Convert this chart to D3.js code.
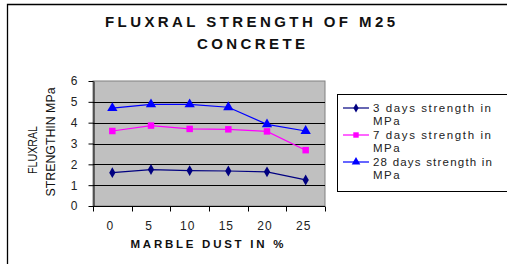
<!DOCTYPE html>
<html>
<head>
<meta charset="utf-8">
<script src="https://cdn.jsdelivr.net/npm/d3@7"></script>
<style>
  body { margin: 0; background: #fff; }
  svg text { font-family: "Liberation Sans", Arial, sans-serif; }
</style>
</head>
<body>
<div id="chart"></div>
<script>
// data
var categories = ["0", "5", "10", "15", "20", "25"];
var days3 = [1.6, 1.75, 1.7, 1.68, 1.64, 1.25];
var days7 = [3.6, 3.86, 3.7, 3.68, 3.58, 2.68];
var days28 = [4.7, 4.88, 4.88, 4.74, 3.92, 3.6];
var yTicks = [0, 1, 2, 3, 4, 5, 6];
var seriesNames = ["3 days strength in", "7 days strength in", "28 days strength in"];

var series = [
    { name: seriesNames[0], values: days3, color: "#000080", symbol: d3.symbolDiamond, size: 34 },
    { name: seriesNames[1], values: days7, color: "#ff00ff", symbol: d3.symbolSquare, size: 42 },
    { name: seriesNames[2], values: days28, color: "#0000ff", symbol: d3.symbolTriangle, size: 46 }
];

var W = 507, H = 264;
var plot = { left: 93, top: 81, right: 325, bottom: 206 };

var svg = d3.select("#chart").append("svg")
    .attr("width", W)
    .attr("height", H);

// frame (only top and left edges visible)
svg.append("path")
    .attr("d", "M7.5,264 V4.5 H507")
    .attr("fill", "none")
    .attr("stroke", "#000")
    .attr("stroke-width", 1.3);

// title
svg.append("text")
    .attr("x", 250).attr("y", 27)
    .attr("text-anchor", "middle")
    .attr("font-family", "DejaVu Sans, sans-serif")
    .attr("font-size", 15).attr("font-weight", "bold")
    .attr("fill", "#111")
    .attr("textLength", 290).attr("lengthAdjust", "spacing")
    .text("FLUXRAL STRENGTH OF M25");
svg.append("text")
    .attr("x", 251).attr("y", 49)
    .attr("text-anchor", "middle")
    .attr("font-family", "DejaVu Sans, sans-serif")
    .attr("font-size", 15).attr("font-weight", "bold")
    .attr("fill", "#111")
    .attr("textLength", 108).attr("lengthAdjust", "spacing")
    .text("CONCRETE");

var x = d3.scaleBand().domain(categories).range([plot.left, plot.right]);
var y = d3.scaleLinear().domain([0, 6]).range([plot.bottom, plot.top]);

// plot area background
svg.append("rect")
    .attr("x", plot.left).attr("y", plot.top)
    .attr("width", plot.right - plot.left).attr("height", plot.bottom - plot.top)
    .attr("fill", "#c0c0c0")
    .attr("stroke", "#808080");

// gridlines
svg.append("g").selectAll("line")
    .data(yTicks.filter(function (d) { return d > 0 && d < 6; }))
    .enter().append("line")
    .attr("x1", plot.left).attr("x2", plot.right)
    .attr("y1", function (d) { return Math.round(y(d)) + 0.5; })
    .attr("y2", function (d) { return Math.round(y(d)) + 0.5; })
    .attr("stroke", "#000").attr("stroke-width", 1);

// y axis
var yAxis = svg.append("g")
    .attr("transform", "translate(" + (plot.left + 0.5) + ",0)")
    .call(d3.axisLeft(y).tickValues(yTicks).tickFormat(d3.format("d"))
        .tickSize(5).tickSizeOuter(0).tickPadding(11));
yAxis.selectAll("text").attr("font-size", 12).attr("font-family", "Liberation Sans, Arial, sans-serif").attr("fill", "#222");

// x axis with ticks between categories
var xAxis = svg.append("g")
    .attr("transform", "translate(0," + (plot.bottom + 0.5) + ")");
xAxis.append("line")
    .attr("x1", plot.left).attr("x2", plot.right)
    .attr("stroke", "#000");
xAxis.selectAll("line.tick")
    .data(categories.concat([null]))
    .enter().append("line")
    .attr("class", "tick")
    .attr("x1", function (d, i) { return Math.round(plot.left + i * x.bandwidth()) + 0.5; })
    .attr("x2", function (d, i) { return Math.round(plot.left + i * x.bandwidth()) + 0.5; })
    .attr("y1", 0).attr("y2", 5)
    .attr("stroke", "#000");
xAxis.selectAll("text")
    .data(categories)
    .enter().append("text")
    .attr("x", function (d) { return x(d) + x.bandwidth() / 2 - 2; })
    .attr("y", 23)
    .attr("text-anchor", "middle")
    .attr("font-size", 12)
    .attr("letter-spacing", 1)
    .attr("fill", "#222")
    .text(function (d) { return d; });

// axis titles
svg.append("text")
    .attr("x", 207).attr("y", 248)
    .attr("text-anchor", "middle")
    .attr("font-family", "DejaVu Sans, sans-serif")
    .attr("font-size", 11.5).attr("font-weight", "bold")
    .attr("fill", "#111")
    .attr("textLength", 153).attr("lengthAdjust", "spacing")
    .text("MARBLE DUST IN %");
svg.append("text")
    .attr("transform", "translate(37,150) rotate(-90)")
    .attr("text-anchor", "middle")
    .attr("font-size", 13.5)
    .attr("fill", "#111")
    .attr("textLength", 48).attr("lengthAdjust", "spacingAndGlyphs")
    .text("FLUXRAL");
svg.append("text")
    .attr("transform", "translate(55,142) rotate(-90)")
    .attr("text-anchor", "middle")
    .attr("font-size", 13.5)
    .attr("fill", "#111")
    .attr("textLength", 109).attr("lengthAdjust", "spacingAndGlyphs")
    .text("STRENGTHIN MPa");

// lines and markers
var line = d3.line()
    .x(function (d, i) { return x(categories[i]) + x.bandwidth() / 2; })
    .y(function (d) { return y(d); });

series.forEach(function (s) {
    var g = svg.append("g");
    g.append("path")
        .attr("d", line(s.values))
        .attr("fill", "none")
        .attr("stroke", s.color)
        .attr("stroke-width", 1.2);
    g.selectAll("path.m")
        .data(s.values)
        .enter().append("path")
        .attr("class", "m")
        .attr("transform", function (d, i) {
            return "translate(" + (x(categories[i]) + x.bandwidth() / 2) + "," + y(d) + ")";
        })
        .attr("d", d3.symbol().type(s.symbol).size(s.size))
        .attr("fill", s.color);
});

// legend
var legend = svg.append("g");
legend.append("rect")
    .attr("x", 337.5).attr("y", 94.5)
    .attr("width", 180).attr("height", 97)
    .attr("fill", "#fff")
    .attr("stroke", "#000");
series.forEach(function (s, i) {
    var ly = 108 + i * 27;
    legend.append("line")
        .attr("x1", 343).attr("x2", 369)
        .attr("y1", ly).attr("y2", ly)
        .attr("stroke", s.color).attr("stroke-width", 1.2);
    legend.append("path")
        .attr("transform", "translate(356," + ly + ")")
        .attr("d", d3.symbol().type(s.symbol).size(s.size * 0.7))
        .attr("fill", s.color);
    legend.append("text")
        .attr("x", 373).attr("y", ly + 4)
        .attr("font-size", 11.5)
        .attr("fill", "#222")
        .attr("textLength", i === 2 ? 119 : 118).attr("lengthAdjust", "spacing")
        .text(s.name);
    legend.append("text")
        .attr("x", 373).attr("y", ly + 17)
        .attr("font-size", 11.5).attr("letter-spacing", 1.5)
        .attr("fill", "#222")
        .text("MPa");
});
</script>
</body>
</html>
